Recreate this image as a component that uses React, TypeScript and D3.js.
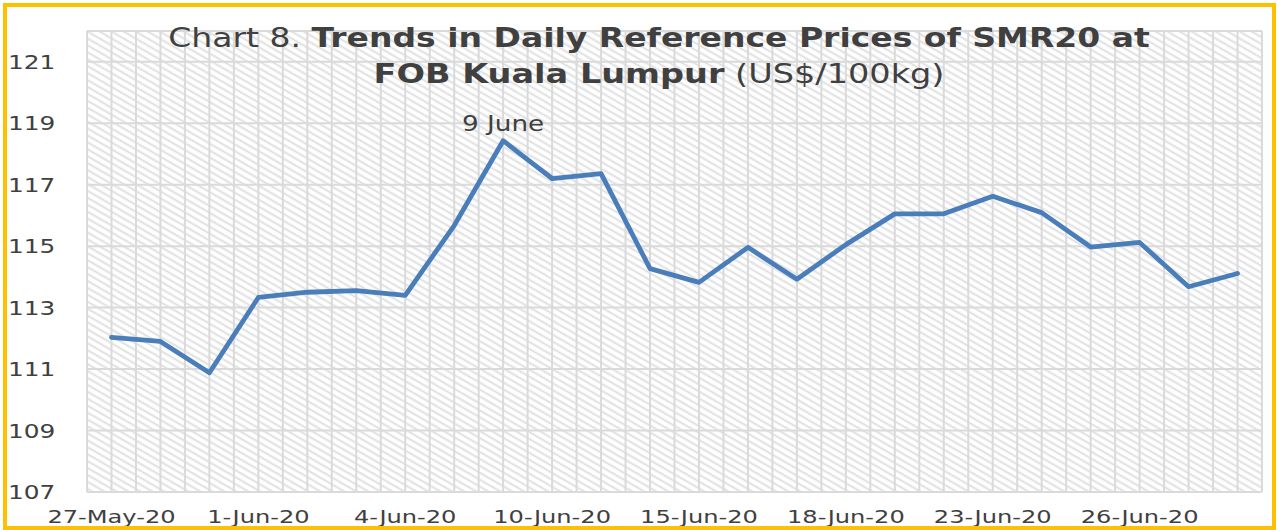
import React from "react";
import * as d3 from "d3";

const dates = [
  "27-May-20", "28-May-20", "29-May-20", "1-Jun-20", "2-Jun-20", "3-Jun-20",
  "4-Jun-20", "5-Jun-20", "9-Jun-20", "10-Jun-20", "11-Jun-20", "12-Jun-20",
  "15-Jun-20", "16-Jun-20", "17-Jun-20", "18-Jun-20", "19-Jun-20", "22-Jun-20",
  "23-Jun-20", "24-Jun-20", "25-Jun-20", "26-Jun-20", "29-Jun-20", "30-Jun-20",
];
const prices = [
  112.03, 111.9, 110.88, 113.33, 113.5, 113.55, 113.4, 115.67, 118.43, 117.2,
  117.36, 114.27, 113.82, 114.96, 113.92, 115.05, 116.05, 116.05, 116.62,
  116.09, 114.97, 115.12, 113.68, 114.11,
];
const shownLabels = ["27-May-20", "1-Jun-20", "4-Jun-20", "10-Jun-20", "15-Jun-20", "18-Jun-20", "23-Jun-20", "26-Jun-20"];
const yTicks = [107, 109, 111, 113, 115, 117, 119, 121];
const annotation = { date: "9-Jun-20", text: "9 June" };
const titleLine1 = { regular: "Chart 8. ", bold: "Trends in Daily Reference Prices of SMR20 at" };
const titleLine2 = { bold: "FOB Kuala Lumpur", regular: " (US$/100kg)" };

const W = 1277, H = 530;
const M = { left: 87, right: 1262, top: 31, bottom: 492 };
const TXT = "#404040";
const GRID = "#dadada";
const FONT = "'DejaVu Sans', Verdana, sans-serif";

export default function App() {
  const x = d3.scaleBand<string>().domain(dates).range([M.left, M.right]);
  const cx = (d: string) => (x(d) as number) + x.bandwidth() / 2;
  const y = d3.scaleLinear().domain([107, 122]).range([M.bottom, M.top]);
  const line = d3
    .line<number>()
    .x((_, i) => cx(dates[i]))
    .y((v) => y(v));

  const halfSteps = d3.range(0, dates.length * 2 + 1).map((k) => M.left + (k * x.bandwidth()) / 2);
  const ai = dates.indexOf(annotation.date);

  return (
    <svg width={W} height={H} style={{ position: "absolute", left: 0, top: 0, background: "#fff" }}>
      <defs>
        <pattern id="hatch" patternUnits="userSpaceOnUse" width="6" height="6" patternTransform="rotate(30)">
          <rect width="6" height="6" fill="#ffffff" />
          <line x1="0" y1="1.5" x2="6" y2="1.5" stroke="#dedede" strokeWidth="1.9" />
        </pattern>
      </defs>
      <rect x={0} y={0} width={W} height={H} fill="#fff" />
      <rect x={M.left} y={M.top} width={M.right - M.left} height={M.bottom - M.top} fill="url(#hatch)" />
      {halfSteps.map((gx, i) => (
        <line key={"v" + i} x1={gx} x2={gx} y1={M.top} y2={M.bottom} stroke={GRID} strokeWidth={2} />
      ))}
      {yTicks.map((t) => (
        <line key={"h" + t} x1={M.left} x2={M.right} y1={y(t)} y2={y(t)} stroke={GRID} strokeWidth={2} />
      ))}
      <line x1={M.left} x2={M.right} y1={M.top} y2={M.top} stroke={GRID} strokeWidth={2} />

      {yTicks.map((t) => (
        <g key={"yl" + t} transform={`translate(8,${y(t) + 7}) scale(1.24,1)`}>
          <text fontFamily={FONT} fontSize={20} fill={TXT}>{t}</text>
        </g>
      ))}
      {shownLabels.map((d) => (
        <g key={"xl" + d} transform={`translate(${cx(d)},523) scale(1.34,1)`}>
          <text fontFamily={FONT} fontSize={18} fill={TXT} textAnchor="middle">{d}</text>
        </g>
      ))}

      <path d={line(prices) || ""} fill="none" stroke="#4a7ebb" strokeWidth={4.8} strokeLinejoin="round" strokeLinecap="round" />

      <g transform={`translate(${cx(annotation.date)},${y(prices[ai]) - 10}) scale(1.25,1)`}>
        <text fontFamily={FONT} fontSize={21} fill={TXT} textAnchor="middle">{annotation.text}</text>
      </g>

      <g transform={`translate(659,47) scale(1.27,1)`}>
        <text fontFamily={FONT} fontSize={26} fill={TXT} textAnchor="middle">
          <tspan>{titleLine1.regular}</tspan>
          <tspan fontWeight="bold">{titleLine1.bold}</tspan>
        </text>
      </g>
      <g transform={`translate(659,83) scale(1.29,1)`}>
        <text fontFamily={FONT} fontSize={26} fill={TXT} textAnchor="middle">
          <tspan fontWeight="bold">{titleLine2.bold}</tspan>
          <tspan>{titleLine2.regular}</tspan>
        </text>
      </g>

      <rect x={5} y={5} width={W - 8} height={H - 7} fill="none" stroke="#ffc000" strokeWidth={4} />
    </svg>
  );
}
